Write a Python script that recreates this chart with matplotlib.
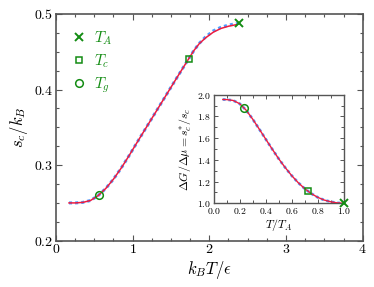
import matplotlib
matplotlib.use("Agg")
import matplotlib.pyplot as plt
from matplotlib.ticker import MultipleLocator

plt.rcParams['mathtext.fontset'] = 'cm'
plt.rcParams['font.family'] = 'serif'
plt.rcParams['font.serif'] = ['cmr10', 'DejaVu Serif']
plt.rcParams['axes.formatter.use_mathtext'] = True

# Main panel data: s_c/k_B vs k_B T/eps
x_model = [0.17, 0.25, 0.35, 0.45, 0.55, 0.65, 0.75, 0.85, 0.95, 1.05, 1.15, 1.25,
           1.35, 1.45, 1.55, 1.65, 1.73, 1.80, 1.87, 1.95, 2.05, 2.15, 2.25, 2.33, 2.39]
s_model = [0.2500, 0.2500, 0.2507, 0.2532, 0.2597, 0.2692, 0.2815, 0.2960, 0.3120,
           0.3288, 0.3453, 0.3618, 0.3783, 0.3948, 0.4113, 0.4276, 0.4406, 0.4518,
           0.4612, 0.4695, 0.4775, 0.4823, 0.4853, 0.4868, 0.4876]
x_fit = [0.17, 0.25, 0.35, 0.45, 0.55, 0.65, 0.75, 0.85, 0.95, 1.05, 1.15, 1.25,
         1.35, 1.45, 1.55, 1.65, 1.73, 1.80, 1.87, 1.95, 2.05, 2.15, 2.25, 2.36]
s_fit = [0.2500, 0.2500, 0.2507, 0.2532, 0.2597, 0.2692, 0.2815, 0.2960, 0.3120,
         0.3288, 0.3453, 0.3618, 0.3783, 0.3948, 0.4113, 0.4276, 0.4406, 0.4518,
         0.4609, 0.4683, 0.4758, 0.4808, 0.4838, 0.4860]

# Characteristic temperatures (main panel)
T_A = (2.39, 0.4876)
T_c = (1.73, 0.4406)
T_g = (0.565, 0.2607)

# Inset data: dG/dmu vs T/T_A
xi = [0.07, 0.10, 0.15, 0.20, 0.25, 0.30, 0.35, 0.40, 0.45, 0.50, 0.55, 0.60,
      0.65, 0.70, 0.75, 0.80, 0.85, 0.90, 0.95, 1.0]
yi = [1.956, 1.955, 1.947, 1.917, 1.857, 1.775, 1.684, 1.591, 1.499, 1.410,
      1.329, 1.255, 1.190, 1.135, 1.090, 1.055, 1.030, 1.014, 1.004, 1.0]
Ti_A = (1.0, 1.0)
Ti_c = (0.722, 1.115)
Ti_g = (0.233, 1.879)

green = '#138c13'
red = '#ee1b3f'
blue = '#4f9dff'
spine_c = '#555555'

fig = plt.figure(figsize=(3.74, 2.87), dpi=100)
ax = fig.add_axes([0.1497, 0.1613, 0.820, 0.790])

ax.plot(x_model, s_model, color=blue, lw=2.2, ls=(0, (1, 1)), zorder=2)
ax.plot(x_fit, s_fit, color=red, lw=1.1, zorder=3)
ax.plot(*T_A, marker='x', color=green, ms=5.5, mew=1.4, ls='none', label='$T_A$', zorder=4)
ax.plot(*T_c, marker='s', color=green, mfc='none', ms=5, mew=1.1, ls='none', label='$T_c$', zorder=4)
ax.plot(*T_g, marker='o', color=green, mfc='none', ms=5.5, mew=1.1, ls='none', label='$T_g$', zorder=4)

ax.set_xlim(0, 4)
ax.set_ylim(0.2, 0.5)
ax.xaxis.set_major_locator(MultipleLocator(1))
ax.xaxis.set_minor_locator(MultipleLocator(0.25))
ax.yaxis.set_major_locator(MultipleLocator(0.1))
ax.yaxis.set_minor_locator(MultipleLocator(0.025))
ax.tick_params(which='both', direction='in', top=True, right=True, color=spine_c)
ax.tick_params(which='major', length=4, width=0.8, labelsize=10, pad=2)
ax.tick_params(which='minor', length=2.5, width=0.8)
ax.set_xlabel(r'$k_BT/\epsilon$', fontsize=12, labelpad=2)
ax.set_ylabel(r'$s_c/k_B$', fontsize=12, labelpad=3)
for sp in ax.spines.values():
    sp.set_color(spine_c)
    sp.set_linewidth(1.2)

leg = ax.legend(loc='upper left', frameon=False, fontsize=11, handlelength=1.0,
                handletextpad=0.5, borderaxespad=0.6, labelspacing=0.35)
for t in leg.get_texts():
    t.set_color(green)

# Inset
ax2 = fig.add_axes([0.5714, 0.2916, 0.3476, 0.3784])
ax2.plot(xi, yi, color=blue, lw=2.0, ls=(0, (1, 1)), zorder=2)
ax2.plot(xi, yi, color=red, lw=1.0, zorder=3)
ax2.plot(*Ti_A, marker='x', color=green, ms=5.5, mew=1.4, ls='none', zorder=4, clip_on=False)
ax2.plot(*Ti_c, marker='s', color=green, mfc='none', ms=5, mew=1.1, ls='none', zorder=4)
ax2.plot(*Ti_g, marker='o', color=green, mfc='none', ms=5.5, mew=1.1, ls='none', zorder=4)
ax2.set_xlim(0, 1)
ax2.set_ylim(1.0, 2.0)
ax2.xaxis.set_major_locator(MultipleLocator(0.2))
ax2.xaxis.set_minor_locator(MultipleLocator(0.1))
ax2.yaxis.set_major_locator(MultipleLocator(0.2))
ax2.yaxis.set_minor_locator(MultipleLocator(0.1))
ax2.tick_params(which='both', direction='in', top=True, right=True, color=spine_c)
ax2.tick_params(which='major', length=3, width=0.7, labelsize=7, pad=2)
ax2.tick_params(which='minor', length=2, width=0.7)
ax2.set_xlabel(r'$T/T_A$', fontsize=8.5, labelpad=1)
ax2.set_ylabel(r'$\Delta G/\Delta\mu = s_c^{*}/s_c$', fontsize=8.5, labelpad=2)
for sp in ax2.spines.values():
    sp.set_color(spine_c)
    sp.set_linewidth(1.0)

fig.savefig('out.png', dpi=100)
